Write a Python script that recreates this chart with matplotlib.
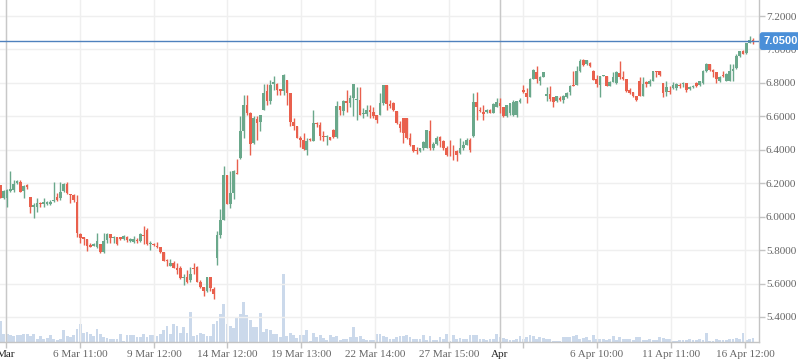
import numpy as np
import matplotlib
matplotlib.use("Agg")
import matplotlib.pyplot as plt
import matplotlib.transforms as mtransforms

# OHLC candles (one per bar, oldest first)
open_ = [
    6.19, 6.11, 6.11, 6.155, 6.16, 6.2, 6.205, 6.155, 6.19, 6.115,
    6.055, 6.06, 6.08, 6.075, 6.075, 6.075, 6.095, 6.12, 6.11, 6.155,
    6.195, 6.135, 6.13, 6.09, 5.895, 5.88, 5.866, 5.83, 5.826, 5.82,
    5.836, 5.786, 5.86, 5.896, 5.874, 5.876, 5.876, 5.866, 5.88, 5.856,
    5.85, 5.86, 5.856, 5.89, 5.92, 5.834, 5.836, 5.826, 5.816, 5.786,
    5.741, 5.707, 5.721, 5.691, 5.691, 5.634, 5.638, 5.622, 5.691, 5.697,
    5.608, 5.58, 5.553, 5.64, 5.568, 5.753, 5.889, 5.978, 6.25, 6.078,
    6.14, 6.26, 6.35, 6.51, 6.667, 6.618, 6.44, 6.582, 6.568, 6.638,
    6.75, 6.69, 6.796, 6.796, 6.766, 6.75, 6.816, 6.737, 6.568, 6.54,
    6.473, 6.46, 6.4, 6.462, 6.455, 6.562, 6.55, 6.484, 6.475, 6.475,
    6.52, 6.475, 6.66, 6.634, 6.693, 6.68, 6.71, 6.7, 6.697, 6.612,
    6.614, 6.638, 6.624, 6.608, 6.608, 6.68, 6.786, 6.671, 6.68, 6.634,
    6.554, 6.592, 6.588, 6.47, 6.43, 6.396, 6.39, 6.41, 6.41, 6.515,
    6.41, 6.435, 6.475, 6.45, 6.41, 6.4, 6.4, 6.39, 6.38, 6.41,
    6.43, 6.46, 6.48, 6.687, 6.64, 6.626, 6.628, 6.636, 6.622, 6.654,
    6.68, 6.658, 6.6, 6.62, 6.608, 6.605, 6.688, 6.758, 6.738, 6.718,
    6.824, 6.868, 6.814, 6.838, 6.72, 6.734, 6.714, 6.694, 6.708, 6.7,
    6.718, 6.748, 6.786, 6.79, 6.874, 6.934, 6.914, 6.918, 6.874, 6.824,
    6.788, 6.842, 6.844, 6.784, 6.804, 6.798, 6.86, 6.834, 6.824, 6.76,
    6.744, 6.72, 6.814, 6.724, 6.804, 6.794, 6.814, 6.87, 6.87, 6.798,
    6.744, 6.754, 6.77, 6.77, 6.79, 6.796, 6.798, 6.764, 6.774, 6.798,
    6.79, 6.798, 6.87, 6.914, 6.878, 6.864, 6.814, 6.846, 6.814, 6.814,
    6.87, 6.89, 6.958, 6.99, 6.978, 7.04, 7.058,
]
high = [
    6.19, 6.16, 6.165, 6.27, 6.22, 6.22, 6.22, 6.19, 6.196, 6.115,
    6.08, 6.11, 6.086, 6.11, 6.094, 6.1, 6.205, 6.14, 6.205, 6.2,
    6.21, 6.135, 6.134, 6.13, 5.9, 5.88, 5.866, 5.84, 5.84, 5.9,
    5.836, 5.9, 5.9, 5.896, 5.886, 5.876, 5.876, 5.89, 5.884, 5.87,
    5.885, 5.875, 5.905, 5.945, 5.935, 5.855, 5.845, 5.85, 5.816, 5.79,
    5.747, 5.747, 5.737, 5.723, 5.707, 5.658, 5.681, 5.697, 5.723, 5.707,
    5.624, 5.58, 5.64, 5.64, 5.578, 5.915, 6.045, 6.30, 6.25, 6.27,
    6.277, 6.345, 6.6, 6.727, 6.727, 6.628, 6.6, 6.6, 6.608, 6.796,
    6.796, 6.816, 6.84, 6.8, 6.766, 6.855, 6.816, 6.737, 6.588, 6.54,
    6.48, 6.503, 6.47, 6.47, 6.638, 6.568, 6.568, 6.51, 6.49, 6.475,
    6.525, 6.69, 6.66, 6.7, 6.756, 6.725, 6.796, 6.776, 6.776, 6.648,
    6.668, 6.668, 6.658, 6.608, 6.737, 6.786, 6.786, 6.697, 6.686, 6.634,
    6.574, 6.592, 6.588, 6.5, 6.43, 6.416, 6.41, 6.45, 6.52, 6.58,
    6.444, 6.48, 6.484, 6.46, 6.42, 6.46, 6.43, 6.4, 6.47, 6.45,
    6.47, 6.47, 6.74, 6.746, 6.656, 6.666, 6.642, 6.646, 6.677, 6.707,
    6.707, 6.658, 6.668, 6.68, 6.697, 6.69, 6.708, 6.788, 6.768, 6.828,
    6.884, 6.898, 6.84, 6.868, 6.774, 6.784, 6.714, 6.724, 6.724, 6.728,
    6.748, 6.788, 6.874, 6.9, 6.944, 6.944, 6.938, 6.924, 6.88, 6.848,
    6.844, 6.846, 6.844, 6.814, 6.864, 6.874, 6.928, 6.874, 6.824, 6.768,
    6.748, 6.724, 6.838, 6.834, 6.814, 6.824, 6.87, 6.87, 6.874, 6.798,
    6.814, 6.784, 6.804, 6.798, 6.798, 6.804, 6.798, 6.784, 6.788, 6.804,
    6.814, 6.878, 6.918, 6.914, 6.884, 6.864, 6.844, 6.874, 6.858, 6.914,
    6.914, 6.974, 6.99, 6.998, 7.038, 7.08, 7.066,
]
low = [
    6.11, 6.105, 6.06, 6.15, 6.15, 6.195, 6.145, 6.11, 6.165, 6.02,
    5.99, 6.03, 6.06, 6.055, 6.07, 6.07, 6.09, 6.096, 6.1, 6.15,
    6.136, 6.08, 6.09, 5.88, 5.84, 5.83, 5.796, 5.82, 5.826, 5.81,
    5.78, 5.78, 5.84, 5.84, 5.84, 5.83, 5.86, 5.86, 5.85, 5.85,
    5.84, 5.84, 5.85, 5.835, 5.832, 5.8, 5.826, 5.81, 5.782, 5.733,
    5.707, 5.707, 5.691, 5.657, 5.628, 5.594, 5.604, 5.612, 5.657, 5.608,
    5.576, 5.525, 5.55, 5.553, 5.509, 5.71, 5.875, 5.978, 6.078, 6.05,
    6.108, 6.255, 6.347, 6.47, 6.608, 6.37, 6.436, 6.46, 6.51, 6.638,
    6.667, 6.675, 6.757, 6.727, 6.727, 6.73, 6.667, 6.545, 6.52, 6.47,
    6.414, 6.396, 6.366, 6.45, 6.45, 6.538, 6.46, 6.45, 6.43, 6.46,
    6.47, 6.47, 6.61, 6.608, 6.628, 6.655, 6.6, 6.578, 6.608, 6.588,
    6.6, 6.588, 6.588, 6.558, 6.608, 6.668, 6.638, 6.65, 6.632, 6.554,
    6.508, 6.44, 6.464, 6.424, 6.386, 6.376, 6.386, 6.4, 6.41, 6.4,
    6.4, 6.43, 6.418, 6.4, 6.36, 6.36, 6.34, 6.335, 6.376, 6.4,
    6.43, 6.384, 6.476, 6.58, 6.626, 6.578, 6.622, 6.618, 6.618, 6.654,
    6.618, 6.594, 6.594, 6.61, 6.602, 6.595, 6.68, 6.74, 6.68, 6.718,
    6.824, 6.8, 6.788, 6.834, 6.694, 6.694, 6.658, 6.688, 6.694, 6.68,
    6.708, 6.728, 6.78, 6.79, 6.868, 6.9, 6.908, 6.894, 6.818, 6.774,
    6.718, 6.84, 6.78, 6.78, 6.804, 6.794, 6.824, 6.82, 6.748, 6.734,
    6.714, 6.694, 6.72, 6.72, 6.778, 6.784, 6.81, 6.838, 6.844, 6.714,
    6.72, 6.734, 6.764, 6.758, 6.77, 6.778, 6.744, 6.758, 6.77, 6.778,
    6.784, 6.794, 6.864, 6.874, 6.834, 6.798, 6.804, 6.838, 6.81, 6.814,
    6.814, 6.884, 6.954, 6.97, 6.974, 7.04, 7.034,
]
close = [
    6.11, 6.155, 6.16, 6.165, 6.195, 6.215, 6.15, 6.185, 6.175, 6.06,
    6.07, 6.08, 6.075, 6.085, 6.085, 6.09, 6.1, 6.1, 6.15, 6.195,
    6.14, 6.13, 6.1, 5.9, 5.87, 5.866, 5.826, 5.82, 5.836, 5.854,
    5.79, 5.854, 5.896, 5.874, 5.88, 5.838, 5.866, 5.886, 5.86, 5.866,
    5.866, 5.855, 5.895, 5.885, 5.836, 5.84, 5.83, 5.816, 5.786, 5.737,
    5.733, 5.721, 5.693, 5.683, 5.634, 5.638, 5.612, 5.658, 5.687, 5.612,
    5.58, 5.553, 5.64, 5.572, 5.539, 5.889, 5.978, 6.25, 6.078, 6.14,
    6.27, 6.255, 6.515, 6.67, 6.618, 6.436, 6.59, 6.562, 6.608, 6.737,
    6.69, 6.786, 6.804, 6.76, 6.752, 6.85, 6.737, 6.568, 6.54, 6.473,
    6.46, 6.404, 6.45, 6.458, 6.562, 6.552, 6.485, 6.476, 6.478, 6.46,
    6.478, 6.662, 6.638, 6.693, 6.68, 6.71, 6.796, 6.705, 6.608, 6.616,
    6.638, 6.624, 6.604, 6.578, 6.68, 6.786, 6.671, 6.663, 6.638, 6.558,
    6.533, 6.503, 6.47, 6.43, 6.39, 6.39, 6.408, 6.444, 6.52, 6.41,
    6.435, 6.473, 6.45, 6.41, 6.37, 6.396, 6.396, 6.37, 6.41, 6.43,
    6.46, 6.396, 6.687, 6.653, 6.63, 6.616, 6.636, 6.622, 6.673, 6.687,
    6.66, 6.602, 6.665, 6.677, 6.687, 6.69, 6.698, 6.744, 6.714, 6.824,
    6.878, 6.824, 6.834, 6.864, 6.734, 6.704, 6.688, 6.72, 6.7, 6.724,
    6.738, 6.784, 6.782, 6.874, 6.928, 6.904, 6.934, 6.9, 6.82, 6.794,
    6.844, 6.846, 6.78, 6.808, 6.838, 6.864, 6.834, 6.824, 6.75, 6.74,
    6.72, 6.698, 6.724, 6.794, 6.794, 6.814, 6.87, 6.866, 6.85, 6.738,
    6.778, 6.744, 6.79, 6.794, 6.784, 6.8, 6.758, 6.778, 6.784, 6.784,
    6.81, 6.87, 6.914, 6.878, 6.864, 6.824, 6.838, 6.844, 6.854, 6.87,
    6.884, 6.958, 6.99, 6.974, 7.038, 7.054, 7.05,
]
volume = [
    21.3, 8.3, 8.3, 6.7, 6, 6.7, 6.7, 8.3, 8.3, 5.7,
    8.3, 3.3, 5.7, 2.7, 4, 7.3, 3.3, 2, 3.3, 11.7,
    5.7, 4.7, 7.3, 13.3, 18.3, 9.3, 10, 8.3, 5.7, 13.3,
    8, 5.3, 4, 3.3, 3.3, 3.3, 8, 1.3, 6.7, 6.7,
    6.7, 4.7, 4.7, 8.3, 4.7, 7.3, 7.3, 5.7, 8.3, 12.3,
    16.3, 8.3, 18.3, 16, 9.3, 14.7, 9, 30.3, 5.7, 6.7,
    9.3, 8, 5.7, 5.7, 18.3, 20.7, 28.3, 38, 18, 15.7,
    14, 25, 28.3, 39.7, 27.3, 22.3, 14.7, 15.3, 29.3, 10,
    13.3, 12.3, 8.3, 8.3, 4.7, 68.3, 5.7, 9.3, 7.3, 4,
    7.3, 7.3, 12.3, 1.3, 9.3, 4.7, 6.7, 4, 2.3, 7.3,
    4.7, 6.3, 2.3, 3.3, 2.7, 4.7, 15.3, 4.7, 6, 3.3,
    2.3, 2.3, 2.3, 8.3, 8.3, 5.7, 4.7, 3.3, 3.3, 4.7,
    5.7, 5.7, 6.7, 4.7, 3.3, 2.7, 2.7, 7.3, 2.3, 6.3,
    2.3, 2.3, 4.7, 3.3, 8.3, 1.3, 6.7, 3.3, 4, 2.7,
    2.7, 7.3, 7, 6.7, 3.3, 2.7, 2.3, 3.3, 3.3, 8.3,
    4.7, 4, 3.3, 2.3, 2.3, 3.3, 5.7, 3.3, 4.7, 7.3,
    6, 3.3, 5.3, 4, 3.3, 3.3, 1.3, 1, 0.7, 4.7,
    4.7, 4.7, 5.7, 6.7, 3.3, 4, 4.7, 2.3, 6.7, 3.3,
    3.3, 3.3, 2, 2.7, 6.3, 2.3, 4.7, 3.3, 3.3, 2.7,
    2, 4.7, 5.3, 2.3, 2, 3.3, 2, 2.3, 5.3, 4,
    3.3, 2.7, 1.3, 1.3, 2, 2.3, 2, 3, 2, 2.3,
    3.3, 2, 9.3, 1.3, 1.3, 3.3, 2, 2, 2, 3.3,
    2.7, 4, 3.3, 9.3, 2.3, 3.3, 4,
]

# time axis labels (positions in bar units)
tick_pos = [1.65, 23.87, 46.1, 68.0, 90.2, 112.5, 134.7, 150.0, 156.9, 179.1, 201.4, 223.6]
tick_labels = ["Mar", "6 Mar 11:00", "9 Mar 12:00", "14 Mar 12:00", "19 Mar 13:00",
               "22 Mar 14:00", "27 Mar 15:00", "Apr", "", "6 Apr 10:00",
               "11 Apr 11:00", "16 Apr 12:00"]
month_ticks = ["Mar", "Apr"]
price_ticks = [5.4, 5.6, 5.8, 6.0, 6.2, 6.4, 6.6, 6.8, 7.0, 7.2]
last_price = 7.05

UP = "#6aa88b"
DOWN = "#e9604d"
VOL = "#cbd9eb"
GRID = "#efefef"
AXIS = "#c4c4c4"
TXT = "#666666"
SERIF = ["Liberation Serif", "DejaVu Serif"]

o = np.array(open_)
c = np.array(close)
h = np.maximum(np.array(high), np.maximum(o, c))
l = np.minimum(np.array(low), np.minimum(o, c))
x = np.arange(len(o))
up = c >= o

fig = plt.figure(figsize=(7.98, 3.63), dpi=100)
ax = fig.add_axes([0, 21 / 363, 759 / 798, 342 / 363])

# volume underneath on a hidden twin axis
axv = ax.twinx()
axv.bar(x, volume, width=0.85, color=VOL, linewidth=0, zorder=1)
axv.set_ylim(0, 342)
axv.axis("off")
ax.set_zorder(axv.get_zorder() + 1)
ax.patch.set_visible(False)

# candles
cols = np.where(up, UP, DOWN)
ax.vlines(x, l, h, colors=cols, linewidth=1.0, zorder=3)
body_bottom = np.minimum(o, c)
body_h = np.maximum(np.abs(c - o), 0.005)
ax.bar(x, body_h, bottom=body_bottom, width=0.8, color=cols, linewidth=0, zorder=4)

ax.set_xlim(-0.15, 227.8)
ax.set_ylim(5.2502, 7.2957)

ax.axhline(last_price, color="#4f81bd", linewidth=1.0, zorder=5)

# axes styling
ax.yaxis.tick_right()
ax.set_yticks(price_ticks)
ax.set_yticklabels([f"{p:.4f}" for p in price_ticks])
ax.set_xticks(tick_pos)
ax.set_xticklabels(tick_labels)
ax.grid(True, color=GRID, linewidth=1.0, zorder=0)
for pos, lab in zip(tick_pos, tick_labels):
    if lab in month_ticks:
        ax.axvline(pos, color="#c8c8c8", linewidth=1.0, zorder=2)

ax.tick_params(axis="both", colors=AXIS, length=4, width=1, labelsize=8)
ax.tick_params(axis="y", pad=1)
ax.tick_params(axis="x", pad=2)
for t in ax.get_yticklabels() + ax.get_xticklabels():
    t.set_fontfamily(SERIF)
    t.set_color(TXT)
for t in ax.get_xticklabels():
    if t.get_text() in month_ticks:
        t.set_color("#222222")

for side in ["top", "left"]:
    ax.spines[side].set_visible(False)
for side in ["right", "bottom"]:
    ax.spines[side].set_color(AXIS)
    ax.spines[side].set_linewidth(1.0)

# last price marker
trans = mtransforms.blended_transform_factory(ax.transAxes, ax.transData)
ax.text(1.006, last_price, f"{last_price:.4f}", transform=trans, ha="left", va="center",
        fontsize=8, fontweight="bold", color="white", family=["Liberation Sans", "DejaVu Sans"],
        bbox=dict(boxstyle="round,pad=0.35,rounding_size=0.25", fc="#4a8fd8", ec="none"),
        zorder=10, clip_on=False)

fig.savefig("out.png", dpi=100)
